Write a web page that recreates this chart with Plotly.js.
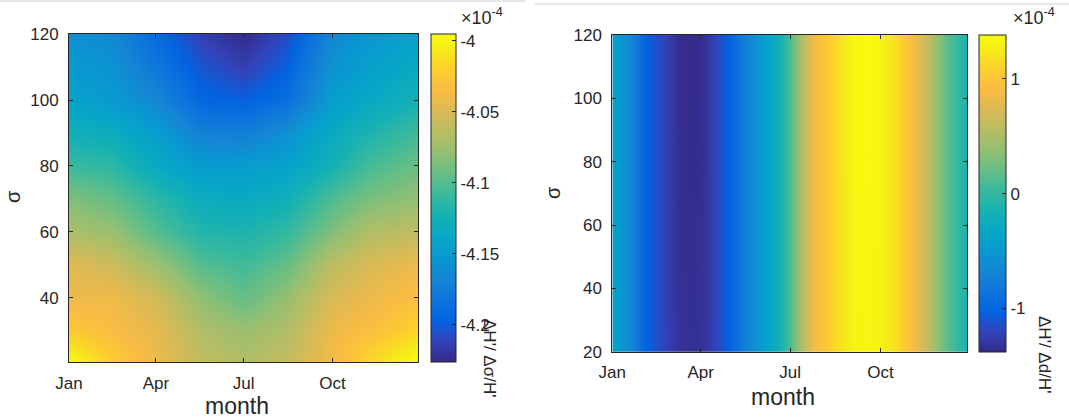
<!DOCTYPE html>
<html><head><meta charset="utf-8">
<script src="https://cdn.plot.ly/plotly-3.0.1.min.js"></script>
<style>html,body{margin:0;padding:0;background:#fff}</style>
</head><body><div id="chart" style="width:1069px;height:419px"></div>
<script>
// ---- shared tick labels ----
const monthTickVals = [1, 91, 182, 274];
const monthTickText = ['Jan', 'Apr', 'Jul', 'Oct'];

// ---- left panel: dH'/dsigma/H' (x 1e-4) ----
const leftDays  = [1, 46, 91, 138, 182, 226, 274, 312, 363];
const leftSigma = [21, 30, 40, 50, 60, 70, 80, 90, 100, 110, 120];
const leftRow21  = [-3.997, -4.021, -4.041, -4.060, -4.067, -4.060, -4.037, -4.016, -3.995];
const leftRow30  = [-4.023, -4.034, -4.044, -4.067, -4.076, -4.067, -4.041, -4.032, -4.016];
const leftRow40  = [-4.041, -4.039, -4.053, -4.080, -4.094, -4.078, -4.050, -4.041, -4.032];
const leftRow50  = [-4.046, -4.055, -4.074, -4.099, -4.106, -4.094, -4.062, -4.050, -4.041];
const leftRow60  = [-4.069, -4.076, -4.099, -4.117, -4.120, -4.111, -4.085, -4.067, -4.060];
const leftRow70  = [-4.085, -4.094, -4.113, -4.131, -4.134, -4.127, -4.101, -4.087, -4.078];
const leftRow80  = [-4.108, -4.113, -4.134, -4.150, -4.148, -4.143, -4.124, -4.104, -4.092];
const leftRow90  = [-4.127, -4.131, -4.148, -4.171, -4.173, -4.159, -4.134, -4.120, -4.106];
const leftRow100 = [-4.143, -4.150, -4.166, -4.194, -4.198, -4.187, -4.148, -4.136, -4.124];
const leftRow110 = [-4.150, -4.157, -4.180, -4.203, -4.214, -4.198, -4.157, -4.145, -4.134];
const leftRow120 = [-4.159, -4.164, -4.191, -4.214, -4.225, -4.208, -4.166, -4.152, -4.143];
const leftCbVals = [-4, -4.05, -4.1, -4.15, -4.2];
const leftCbText = ['-4', '-4.05', '-4.1', '-4.15', '-4.2'];
const leftYTicks = [40, 60, 80, 100, 120];

// ---- right panel: dH'/dd/H' (x 1e-4) ----
const rightDays  = [1, 18, 35, 52, 69, 81, 93, 103, 120, 137, 154, 171, 181, 191, 205, 215, 232, 245, 261, 273, 289, 306, 324, 340, 354, 362];
const rightSigma = [20, 45, 70, 95, 120];
const rightRow20  = [-0.39, -0.63, -1.02, -1.19, -1.32, -1.335, -1.31, -1.24, -1.02, -0.72, -0.44, -0.17, 0.08, 0.44, 0.83, 0.99, 1.19, 1.31, 1.335, 1.30, 1.19, 0.91, 0.58, 0.19, -0.03, -0.11];
const rightRow45  = [-0.39, -0.63, -1.02, -1.19, -1.33, -1.35, -1.32, -1.24, -1.02, -0.72, -0.44, -0.17, 0.08, 0.44, 0.83, 0.99, 1.19, 1.32, 1.35, 1.31, 1.19, 0.91, 0.58, 0.19, -0.03, -0.11];
const rightRow70  = [-0.39, -0.63, -1.02, -1.19, -1.34, -1.365, -1.33, -1.24, -1.02, -0.72, -0.44, -0.17, 0.08, 0.44, 0.83, 0.99, 1.19, 1.33, 1.365, 1.32, 1.19, 0.91, 0.58, 0.19, -0.03, -0.11];
const rightRow95  = [-0.39, -0.63, -1.02, -1.19, -1.35, -1.375, -1.34, -1.24, -1.02, -0.72, -0.44, -0.17, 0.08, 0.44, 0.83, 0.99, 1.19, 1.34, 1.375, 1.33, 1.19, 0.91, 0.58, 0.19, -0.03, -0.11];
const rightRow120 = [-0.39, -0.63, -1.02, -1.19, -1.35, -1.38, -1.34, -1.24, -1.02, -0.72, -0.44, -0.17, 0.08, 0.44, 0.83, 0.99, 1.19, 1.34, 1.38, 1.33, 1.19, 0.91, 0.58, 0.19, -0.03, -0.11];
const rightCbVals = [-1, 0, 1];
const rightCbText = ['-1', '0', '1'];
const rightYTicks = [20, 40, 60, 80, 100, 120];

// parula colormap
const parula = [
  [0/63, 'rgb(53,42,135)'], [4/63, 'rgb(50,67,186)'], [8/63, 'rgb(3,99,225)'],
  [12/63, 'rgb(13,117,220)'], [16/63, 'rgb(20,133,212)'], [20/63, 'rgb(9,152,209)'],
  [24/63, 'rgb(6,167,198)'], [28/63, 'rgb(21,177,180)'], [32/63, 'rgb(56,185,158)'],
  [36/63, 'rgb(101,190,134)'], [40/63, 'rgb(146,191,115)'], [44/63, 'rgb(183,189,100)'],
  [48/63, 'rgb(217,186,86)'], [52/63, 'rgb(248,187,68)'], [56/63, 'rgb(252,206,46)'],
  [60/63, 'rgb(245,235,24)'], [63/63, 'rgb(249,251,14)']
];

const INK = '#262626';
const FONT = 'Liberation Sans, Arial, Helvetica, sans-serif';
const W = 1069, H = 419;
const px = v => v / W;
const py = v => 1 - v / H;

function cb(x0, x1, y0, y1, vals, text) {
  return {
    x: px(x0), xanchor: 'left', xref: 'paper',
    y: py((y0 + y1) / 2), yanchor: 'middle', yref: 'paper',
    len: (y1 - y0) / H, lenmode: 'fraction',
    thickness: x1 - x0, thicknessmode: 'pixels',
    xpad: 0, ypad: 0,
    outlinewidth: 1, outlinecolor: INK,
    ticks: 'inside', ticklen: 4, tickcolor: INK,
    tickmode: 'array', tickvals: vals, ticktext: text,
    tickfont: {family: FONT, size: 17, color: INK}
  };
}

const traces = [
  {
    type: 'heatmap', x: leftDays, y: leftSigma,
    z: [leftRow21, leftRow30, leftRow40, leftRow50, leftRow60, leftRow70, leftRow80, leftRow90, leftRow100, leftRow110, leftRow120],
    zsmooth: 'best', colorscale: parula, zmin: -4.226, zmax: -3.995,
    xaxis: 'x', yaxis: 'y',
    colorbar: cb(430.7, 455.7, 33.3, 361.7, leftCbVals, leftCbText)
  },
  {
    type: 'heatmap', x: rightDays, y: rightSigma,
    z: [rightRow20, rightRow45, rightRow70, rightRow95, rightRow120],
    zsmooth: 'best', colorscale: parula, zmin: -1.38, zmax: 1.384,
    xaxis: 'x2', yaxis: 'y2',
    colorbar: cb(979.3, 1006, 35, 351.7, rightCbVals, rightCbText)
  }
];

function ax(extra) {
  return Object.assign({
    showline: true, linecolor: INK, linewidth: 1, mirror: 'allticks',
    ticks: 'inside', ticklen: 4, tickcolor: INK, tickwidth: 1,
    showgrid: false, zeroline: false,
    tickfont: {family: FONT, size: 17, color: INK},
    tickmode: 'array'
  }, extra);
}

const ann = (text, x, y, size, angle, extra) => Object.assign({
  text, x: px(x), y: py(y), xref: 'paper', yref: 'paper',
  xanchor: 'center', yanchor: 'middle', showarrow: false, textangle: angle || 0,
  font: {family: FONT, size, color: INK}
}, extra || {});

const layout = {
  width: W, height: H,
  margin: {l: 0, r: 0, t: 0, b: 0},
  paper_bgcolor: '#fff', plot_bgcolor: '#fff',
  showlegend: false,
  xaxis: ax({domain: [px(69), px(418)], range: [1, 362.6], tickvals: monthTickVals, ticktext: monthTickText, anchor: 'y', ticklabelstandoff: 6}),
  yaxis: ax({domain: [py(362), py(34)], range: [20.6, 120], tickvals: leftYTicks, anchor: 'x', ticklabelstandoff: 6}),
  xaxis2: ax({domain: [px(612.3), px(967.3)], range: [1, 362.5], tickvals: monthTickVals, ticktext: monthTickText, anchor: 'y2', ticklabelstandoff: 5}),
  yaxis2: ax({domain: [py(351.7), py(35)], range: [20, 120], tickvals: rightYTicks, anchor: 'x2', ticklabelstandoff: 6}),
  annotations: [
    ann('month', 237, 406, 23),
    ann('month', 783, 397, 23),
    ann('σ', 13, 197, 20, -90),
    ann('σ', 553, 193, 20, -90),
    ann('×10<sup>-4</sup>', 482, 16, 18),
    ann('×10<sup>-4</sup>', 1034, 16, 18),
    ann("ΔH'/ Δσ/H'", 490, 358, 17, 90),
    ann("ΔH'/ Δd/H'", 1045, 354, 17, 90)
  ],
  shapes: [
    {type: 'line', xref: 'paper', yref: 'paper', x0: 0, x1: px(525), y0: py(1), y1: py(1), line: {color: '#e6e6e6', width: 2}},
    {type: 'line', xref: 'paper', yref: 'paper', x0: px(535), x1: 1, y0: py(4), y1: py(4), line: {color: '#e6e6e6', width: 2}}
  ]
};

Plotly.newPlot('chart', traces, layout, {displayModeBar: false, staticPlot: true});
</script>
</body></html>
